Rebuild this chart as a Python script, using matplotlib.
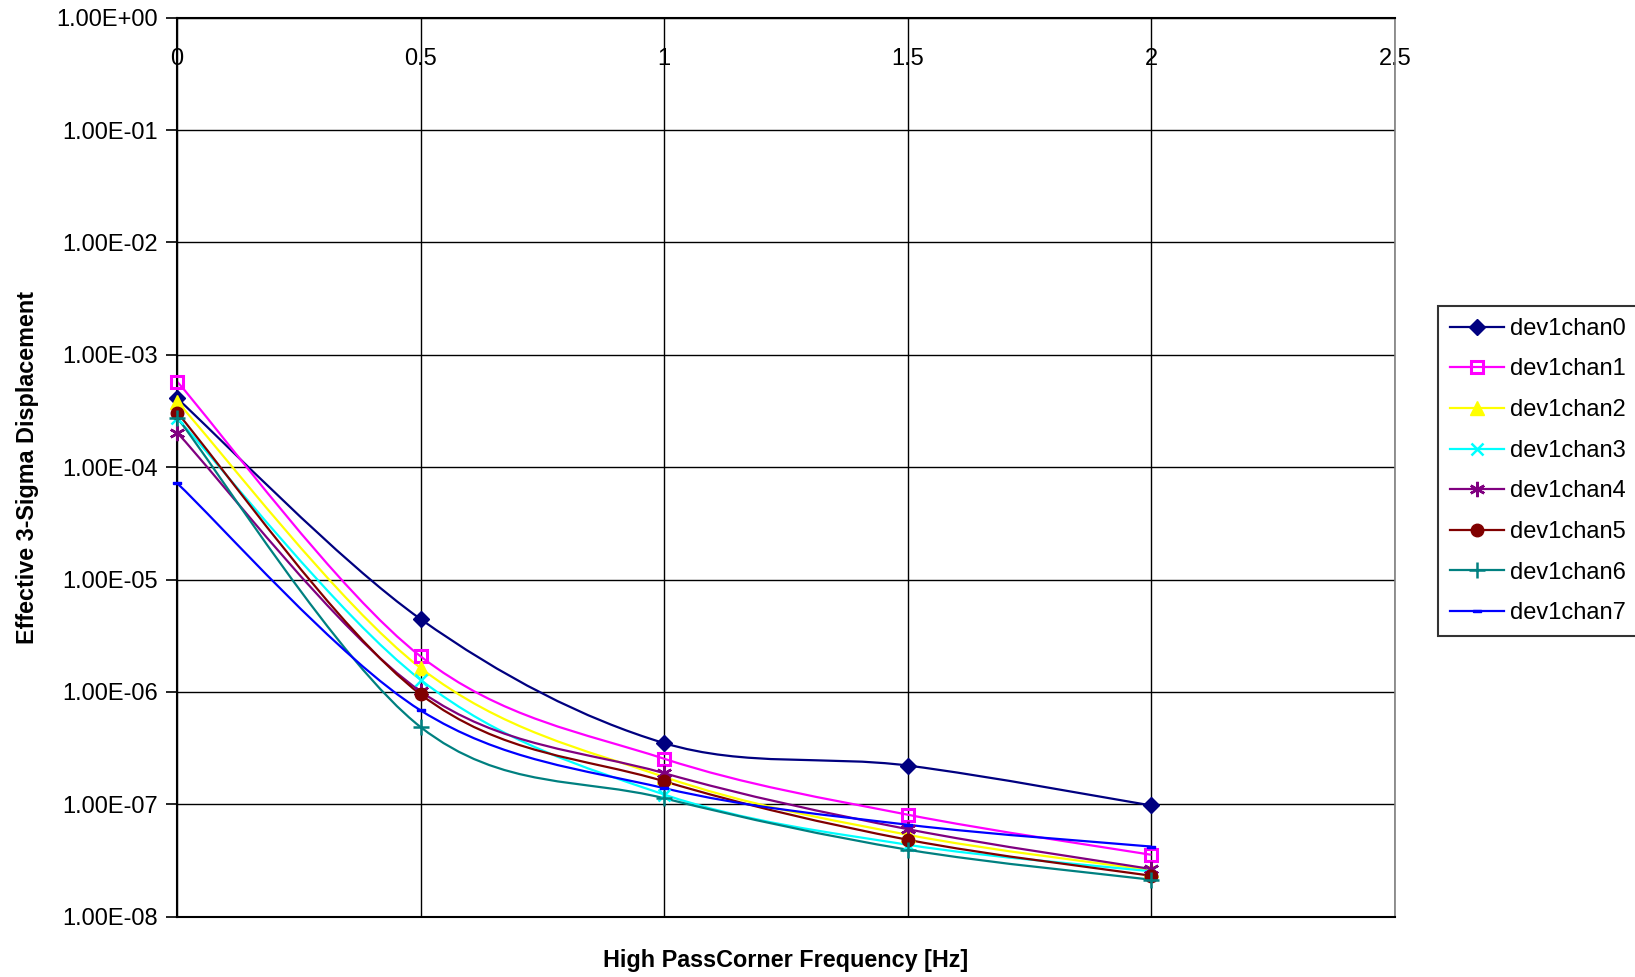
import matplotlib
matplotlib.use("Agg")
import numpy as np
import matplotlib.pyplot as plt
from matplotlib.lines import Line2D
from matplotlib.path import Path
from matplotlib.patches import PathPatch
from matplotlib.ticker import FixedLocator, FuncFormatter, NullLocator

plt.rcParams["font.family"] = ["Liberation Sans", "DejaVu Sans"]

# High pass corner frequency [Hz]
freq = [0, 0.5, 1, 1.5, 2]

# Effective 3-sigma displacement per channel
dev1chan0 = [4.1e-4, 4.44e-6, 3.5e-7, 2.21e-7, 9.75e-8]
dev1chan1 = [5.78e-4, 2.07e-6, 2.54e-7, 8.07e-8, 3.55e-8]
dev1chan2 = [3.83e-4, 1.63e-6, 1.75e-7, 5.35e-8, 2.58e-8]
dev1chan3 = [2.73e-4, 1.28e-6, 1.22e-7, 4.36e-8, 2.53e-8]
dev1chan4 = [2.03e-4, 1.01e-6, 1.89e-7, 6.0e-8, 2.65e-8]
dev1chan5 = [3.06e-4, 9.5e-7, 1.6e-7, 4.83e-8, 2.31e-8]
dev1chan6 = [2.76e-4, 4.86e-7, 1.13e-7, 3.94e-8, 2.13e-8]
dev1chan7 = [7.2e-5, 6.84e-7, 1.39e-7, 6.57e-8, 4.2e-8]

names = ["dev1chan0", "dev1chan1", "dev1chan2", "dev1chan3",
         "dev1chan4", "dev1chan5", "dev1chan6", "dev1chan7"]
series = [dev1chan0, dev1chan1, dev1chan2, dev1chan3,
          dev1chan4, dev1chan5, dev1chan6, dev1chan7]

x_ticks = [0, 0.5, 1, 1.5, 2, 2.5]
y_ticks = [1e-8, 1e-7, 1e-6, 1e-5, 1e-4, 1e-3, 1e-2, 1e-1, 1e0]

# Excel 2003 default series colours / markers
dash = [(-1, -0.35), (1, -0.35), (1, 0.35), (-1, 0.35), (-1, -0.35)]
colors = ["#000080", "#FF00FF", "#FFFF00", "#00FFFF",
          "#800080", "#800000", "#008080", "#0000FF"]
markers = [
    dict(marker="D", ms=8, mfc=colors[0], mec=colors[0]),
    dict(marker="s", ms=8, mfc="none", mec=colors[1], mew=2.2),
    dict(marker="^", ms=10, mfc=colors[2], mec=colors[2]),
    dict(marker="x", ms=9, mec=colors[3], mew=1.8),
    dict(marker=(6, 2, 0), ms=11, mec=colors[4], mew=1.8),
    dict(marker="o", ms=9, mfc=colors[5], mec=colors[5]),
    dict(marker="+", ms=12, mec=colors[6], mew=1.8),
    dict(marker=dash, ms=6, mfc=colors[7], mec=colors[7]),
]


def smooth_path(xs, ys):
    """Excel-like smoothed line: Catmull-Rom Bezier in (x, log y) space."""
    pts = list(zip(xs, np.log10(ys)))
    n = len(pts)
    verts = [pts[0]]
    codes = [Path.MOVETO]
    for i in range(n - 1):
        p0 = pts[i - 1] if i > 0 else pts[i]
        p1, p2 = pts[i], pts[i + 1]
        p3 = pts[i + 2] if i + 2 < n else pts[i + 1]
        c1 = (p1[0] + (p2[0] - p0[0]) / 6, p1[1] + (p2[1] - p0[1]) / 6)
        c2 = (p2[0] - (p3[0] - p1[0]) / 6, p2[1] - (p3[1] - p1[1]) / 6)
        verts += [c1, c2, p2]
        codes += [Path.CURVE4] * 3
    return Path([(x, 10 ** y) for x, y in verts], codes)


fig = plt.figure(figsize=(16.35, 9.77), dpi=100)
ax = fig.add_axes([0.1083, 0.0618, 0.7449, 0.9201])

ax.set_yscale("log")
ax.set_ylim(1e-8, 1e0)
ax.set_xlim(0, 2.5)

handles = []
for name, vals, col, mk in zip(names, series, colors, markers):
    ax.add_patch(PathPatch(smooth_path(freq, vals), fill=False,
                           edgecolor=col, lw=1.6, zorder=2))
    ax.plot(freq, vals, ls="none", zorder=3, clip_on=False, **mk)
    handles.append(Line2D([], [], color=col, lw=1.6, label=name, **mk))

ax.yaxis.set_major_locator(FixedLocator(y_ticks))
ax.yaxis.set_minor_locator(NullLocator())
ax.yaxis.set_major_formatter(FuncFormatter(lambda v, p: f"{v:.2E}"))
ax.xaxis.set_major_locator(FixedLocator(x_ticks))
ax.xaxis.set_major_formatter(FuncFormatter(lambda v, p: f"{v:g}"))

ax.grid(True, color="black", lw=1.0)
ax.set_axisbelow(True)
for side in ["left", "top", "bottom"]:
    ax.spines[side].set_color("black")
    ax.spines[side].set_linewidth(1.5)
ax.spines["right"].set_color("#808080")
ax.spines["right"].set_linewidth(1.2)

ax.tick_params(axis="y", direction="out", length=8, width=1.2, pad=6,
               labelsize=17)
ax.tick_params(axis="x", bottom=False, top=False, labelbottom=False,
               labeltop=True, pad=-41, labelsize=17)

ax.set_xlabel("High PassCorner Frequency [Hz]", fontsize=16.8,
              fontweight="bold", labelpad=23)
ax.set_ylabel("Effective 3-Sigma Displacement", fontsize=16.8,
              fontweight="bold", labelpad=12)

leg = fig.legend(handles=handles, loc="upper left",
                 bbox_to_anchor=(1438 / 1635, 1 - 306 / 977),
                 borderaxespad=0, fontsize=17, frameon=True, fancybox=False,
                 handlelength=2.3, labelspacing=0.79, borderpad=0.5,
                 handletextpad=0.25)
leg.get_frame().set_edgecolor("black")
leg.get_frame().set_linewidth(1.5)

fig.savefig("out.png", dpi=100)
